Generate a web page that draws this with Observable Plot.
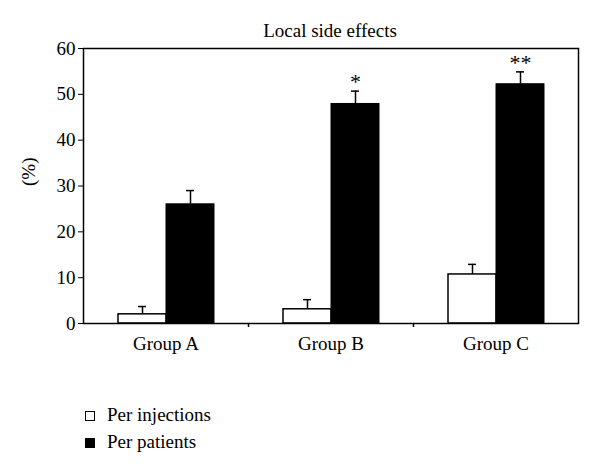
<!DOCTYPE html>
<html>
<head>
<meta charset="utf-8">
<script src="https://cdn.jsdelivr.net/npm/d3@7"></script>
<script src="https://cdn.jsdelivr.net/npm/@observablehq/plot@0.6"></script>
<style>
  body { margin: 0; background: #fff; }
  #wrap { position: relative; width: 600px; height: 472px; font-family: "Liberation Serif", "DejaVu Serif", serif; color: #000; }
  #title { position: absolute; left: 0; width: 660px; top: 21px; text-align: center; font-size: 19px; line-height: 19px; }
  #chart { position: absolute; left: 0; top: 0; }
  .leg { position: absolute; left: 85px; font-size: 19px; line-height: 19px; white-space: nowrap; }
  .sw { position: absolute; left: 0; width: 8px; height: 8px; border: 1px solid #000; }
  .lt { position: absolute; left: 22px; top: 0; }
</style>
</head>
<body>
<div id="wrap">
  <div id="chart"></div>
  <div id="title">Local side effects</div>
  <div id="legend"></div>
</div>
<script>
const groups = ["Group A", "Group B", "Group C"];
const seriesNames = ["Per injections", "Per patients"];
const seriesColors = ["#ffffff", "#000000"];
const injections = [2.0, 3.1, 10.7];
const injectionsErr = [1.7, 2.1, 2.2];
const patients = [26.0, 47.9, 52.2];
const patientsErr = [3.0, 2.8, 2.7];
const significance = ["", "*", "**"];
const yTicks = [0, 10, 20, 30, 40, 50, 60];

const injRows = groups.map((g, i) => ({group: g, value: injections[i], err: injectionsErr[i]}));
const patRows = groups.map((g, i) => ({group: g, value: patients[i], err: patientsErr[i], sig: significance[i]}));

const chart = Plot.plot({
  width: 600,
  height: 372,
  marginLeft: 83,
  marginRight: 22,
  marginTop: 48,
  marginBottom: 49,
  style: {fontFamily: "'Liberation Serif', 'DejaVu Serif', serif", fontSize: "19px", color: "#000", background: "#fff"},
  x: {domain: groups, padding: 0},
  y: {domain: [0, 60]},
  marks: [
    // error bars
    Plot.ruleX(injRows, {x: "group", y1: "value", y2: d => d.value + d.err, dx: -23.5, stroke: "#000", strokeWidth: 1.5}),
    Plot.tickY(injRows, {x: "group", y: d => d.value + d.err, insetLeft: 55, insetRight: 102, stroke: "#000", strokeWidth: 1.5}),
    Plot.ruleX(patRows, {x: "group", y1: "value", y2: d => d.value + d.err, dx: 24.5, stroke: "#000", strokeWidth: 1.5}),
    Plot.tickY(patRows, {x: "group", y: d => d.value + d.err, insetLeft: 103, insetRight: 54, stroke: "#000", strokeWidth: 1.5}),
    // bars
    Plot.barY(injRows, {x: "group", y: "value", insetLeft: 35, insetRight: 82, fill: seriesColors[0], stroke: "#000", strokeWidth: 1.5}),
    Plot.barY(patRows, {x: "group", y: "value", insetLeft: 83, insetRight: 34, fill: seriesColors[1], stroke: "#000", strokeWidth: 1}),
    // significance stars
    Plot.text(patRows, {x: "group", y: d => d.value + d.err, text: "sig", dx: 24.5, dy: -2, lineAnchor: "bottom", fontSize: 22, fill: "#000"}),
    // frame and axes
    Plot.frame({stroke: "#000", strokeWidth: 1.5}),
    Plot.axisY(yTicks, {tickSize: 5, tickPadding: 3, fontSize: 19, label: null, stroke: "#000"}),
    Plot.axisX({tickSize: 0, tickPadding: 13, fontSize: 19, label: null}),
    Plot.ruleX(groups.slice(0, 2), {x: d => d, y1: 0, y2: 0, dx: 82.5, insetBottom: -4, stroke: "#000", strokeWidth: 1.5}),
    Plot.text(["(%)"], {frameAnchor: "left", text: d => d, rotate: -90, dx: -54.5, fontSize: 19, fill: "#000", lineAnchor: "middle"})
  ]
});
document.getElementById("chart").appendChild(chart);

const legend = document.getElementById("legend");
const legendTops = [405, 432];
seriesNames.forEach((name, i) => {
  const row = document.createElement("div");
  row.className = "leg";
  row.style.top = legendTops[i] + "px";
  const sw = document.createElement("div");
  sw.className = "sw";
  sw.style.top = "6px";
  sw.style.background = seriesColors[i];
  const t = document.createElement("span");
  t.className = "lt";
  t.textContent = name;
  row.appendChild(sw);
  row.appendChild(t);
  legend.appendChild(row);
});
</script>
</body>
</html>
